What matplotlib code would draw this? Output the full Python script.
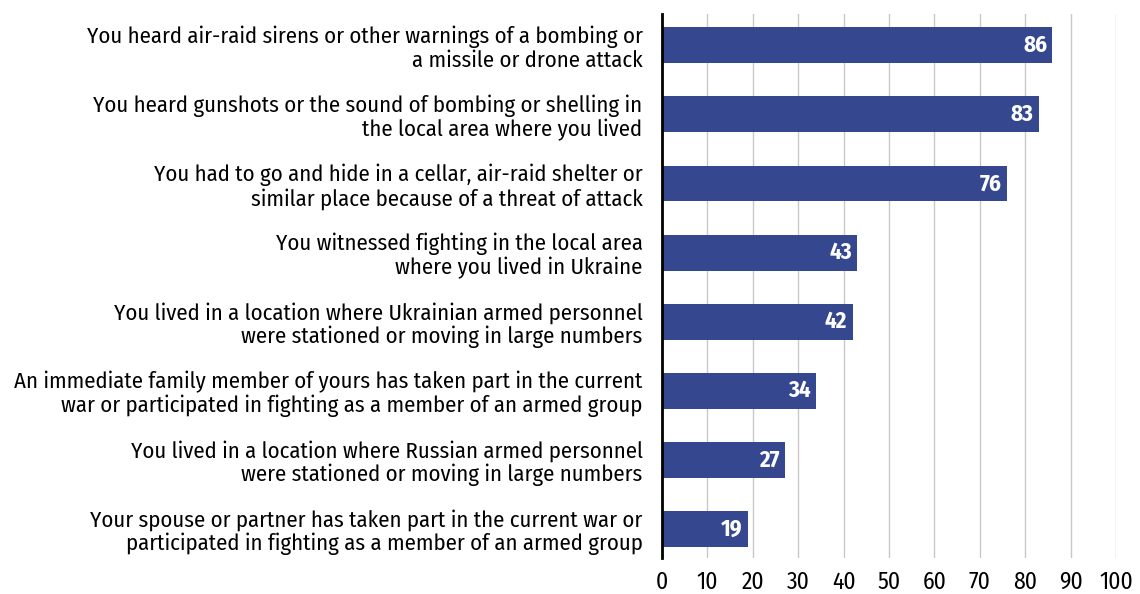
import matplotlib
matplotlib.use("Agg")
import matplotlib.pyplot as plt

# Survey items, top to bottom, and share of respondents (%)
labels = [
    "You heard air-raid sirens or other warnings of a bombing or\na missile or drone attack",
    "You heard gunshots or the sound of bombing or shelling in\nthe local area where you lived",
    "You had to go and hide in a cellar, air-raid shelter or\nsimilar place because of a threat of attack",
    "You witnessed fighting in the local area\nwhere you lived in Ukraine",
    "You lived in a location where Ukrainian armed personnel\nwere stationed or moving in large numbers",
    "An immediate family member of yours has taken part in the current\nwar or participated in fighting as a member of an armed group",
    "You lived in a location where Russian armed personnel\nwere stationed or moving in large numbers",
    "Your spouse or partner has taken part in the current war or\nparticipated in fighting as a member of an armed group",
]
values = [86, 83, 76, 43, 42, 34, 27, 19]
xticks = list(range(0, 101, 10))

plt.rcParams["font.family"] = ["Fira Sans Condensed", "Roboto Condensed",
                               "PT Sans Narrow", "DejaVu Sans"]

fig = plt.figure(figsize=(11.4, 5.94), dpi=100)
ax = fig.add_axes([0.5807, 0.0606, 0.3983, 0.9154])

bar_color = "#34478f"
pos = list(range(len(values)))
ax.barh(pos, values, height=0.52, color=bar_color, zorder=3)

for p, v in zip(pos, values):
    ax.text(v - 1.2, p, str(v), ha="right", va="center", color="white",
            fontsize=16.5, fontweight="bold", zorder=4)

ax.set_ylim(len(values) - 0.58, -0.45)
ax.set_xlim(0, 100)
ax.set_xticks(xticks)
ax.set_xticklabels([str(t) for t in xticks], fontsize=17)
ax.set_yticks(pos)
ax.set_yticklabels(labels, fontsize=16.4, linespacing=1.1)
ax.tick_params(axis="both", length=0)
ax.tick_params(axis="y", pad=14)
ax.tick_params(axis="x", pad=9)

ax.grid(axis="x", color="#c8c8c8", linewidth=1.0, zorder=0)
for side in ["top", "right", "bottom"]:
    ax.spines[side].set_visible(False)
ax.spines["left"].set_color("black")
ax.spines["left"].set_linewidth(2.0)
ax.spines["left"].set_zorder(5)

fig.savefig("out.png", dpi=100)
